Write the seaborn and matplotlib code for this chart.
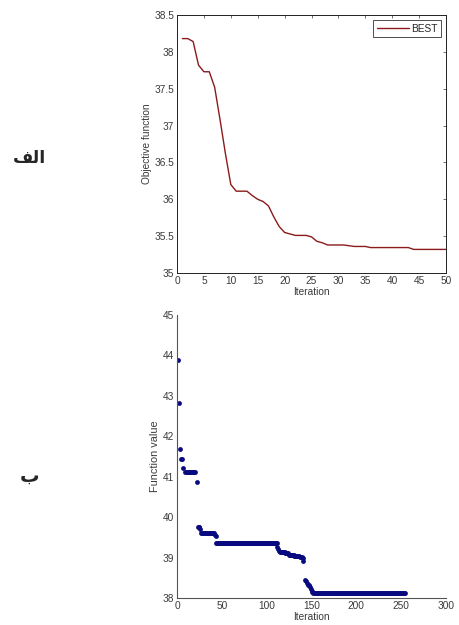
import numpy as np
import pandas as pd
import matplotlib
matplotlib.use("Agg")
import matplotlib.pyplot as plt
import seaborn as sns

# ---------------- data ----------------
# Top panel: objective function per iteration (BEST)
top_iter = list(range(1, 51))
top_best = [38.18, 38.18, 38.14, 37.82, 37.73, 37.73, 37.52, 37.08, 36.62, 36.20,
            36.11, 36.11, 36.11, 36.05, 36.00, 35.97, 35.91, 35.76, 35.63, 35.55,
            35.53, 35.51, 35.51, 35.51, 35.49, 35.43, 35.41, 35.38, 35.38, 35.38,
            35.38, 35.37, 35.36, 35.36, 35.36, 35.345, 35.345, 35.345, 35.345, 35.345,
            35.345, 35.345, 35.345, 35.32, 35.32, 35.32, 35.32, 35.32, 35.32, 35.32]

# Bottom panel: function value per iteration, given as runs (start, end, value)
run_start = [1, 2, 3, 5, 7, 9, 22, 23, 26, 27, 39, 42, 43, 44, 112, 113, 114, 115,
             121, 125, 131, 137, 140, 141, 143, 144, 145, 146, 148, 149, 150, 151, 152]
run_end = [1, 2, 3, 6, 7, 20, 22, 25, 26, 38, 41, 42, 43, 111, 112, 113, 114, 120,
           124, 130, 136, 139, 140, 141, 143, 144, 145, 147, 148, 149, 150, 151, 254]
run_value = [43.89, 42.82, 41.69, 41.44, 41.21, 41.11, 40.86, 39.76, 39.70, 39.62,
             39.60, 39.57, 39.54, 39.37, 39.27, 39.20, 39.16, 39.13, 39.11, 39.06,
             39.04, 39.01, 38.98, 38.92, 38.45, 38.42, 38.36, 38.32, 38.27, 38.22,
             38.18, 38.15, 38.12]

top_xticks = [0, 5, 10, 15, 20, 25, 30, 35, 40, 45, 50]
top_yticks = [35, 35.5, 36, 36.5, 37, 37.5, 38, 38.5]
top_yticklabels = ["35", "35.5", "36", "36.5", "37", "37.5", "38", "38.5"]
bot_xticks = [0, 50, 100, 150, 200, 250, 300]
bot_yticks = [38, 39, 40, 41, 42, 43, 44, 45]

# build bottom table from the runs
bx, by = [], []
for s, e, v in zip(run_start, run_end, run_value):
    for i in range(s, e + 1):
        bx.append(i)
        by.append(v)
df_top = pd.DataFrame({"Iteration": top_iter, "value": top_best, "series": "BEST"})
df_bot = pd.DataFrame({"Iteration": bx, "value": by})

# ---------------- figure ----------------
sns.set_style("white")
plt.rcParams["font.family"] = ["Liberation Sans", "DejaVu Sans"]
tick_color = "#3a3a3a"
fs = 7.3

fig = plt.figure(figsize=(4.6, 6.25), dpi=100)

# top axes
ax1 = fig.add_axes([177 / 460, 1 - 273 / 625, 269 / 460, 258 / 625])
sns.lineplot(data=df_top, x="Iteration", y="value", hue="series",
             palette={"BEST": "#8b1a1a"}, linewidth=1.0, ax=ax1)
ax1.set_xlim(0, 50)
ax1.set_ylim(35, 38.5)
ax1.set_xticks(top_xticks)
ax1.set_yticks(top_yticks)
ax1.set_yticklabels(top_yticklabels)
ax1.tick_params(direction="in", length=2.5, width=0.5, labelsize=fs,
                colors=tick_color, top=True, right=True, pad=2)
for sp in ax1.spines.values():
    sp.set_color("#222222")
    sp.set_linewidth(0.7)
ax1.set_xlabel("Iteration", fontsize=fs, color=tick_color, labelpad=1)
ax1.set_ylabel("Objective function", fontsize=fs, color=tick_color, labelpad=2)
leg = ax1.legend(loc="upper right", fontsize=fs, frameon=True, fancybox=False,
                 handlelength=3.2, borderpad=0.35, handletextpad=0.2,
                 borderaxespad=0.5)
leg.get_frame().set_edgecolor("#222222")
leg.get_frame().set_linewidth(0.7)

# bottom axes
ax2 = fig.add_axes([177 / 460, 1 - 598 / 625, 269 / 460, 283 / 625])
sns.scatterplot(data=df_bot, x="Iteration", y="value", color="#0a0a80",
                s=12, linewidth=0, ax=ax2)
ax2.set_xlim(0, 300)
ax2.set_ylim(38, 45)
ax2.set_xticks(bot_xticks)
ax2.set_yticks(bot_yticks)
ax2.tick_params(direction="in", length=2.5, width=0.5, labelsize=fs,
                colors=tick_color, pad=2)
ax2.spines["top"].set_visible(False)
ax2.spines["right"].set_visible(False)
for k in ("left", "bottom"):
    ax2.spines[k].set_color("#555555")
    ax2.spines[k].set_linewidth(0.8)
ax2.set_xlabel("Iteration", fontsize=fs, color=tick_color, labelpad=1)
ax2.set_ylabel("Function value", fontsize=7.8, color=tick_color, labelpad=2)

# panel labels (Persian/Arabic), written in visual order with presentation forms
fig.text(30 / 460, 1 - 158 / 625, "\uFED2\uFEDF\uFE8D", fontsize=12.5,
         fontweight="bold", family=["DejaVu Sans"], ha="center", va="center")
fig.text(30 / 460, 1 - 476 / 625, "\uFE8F", fontsize=14,
         fontweight="bold", family=["DejaVu Sans"], ha="center", va="center")

fig.savefig("out.png", dpi=100)
